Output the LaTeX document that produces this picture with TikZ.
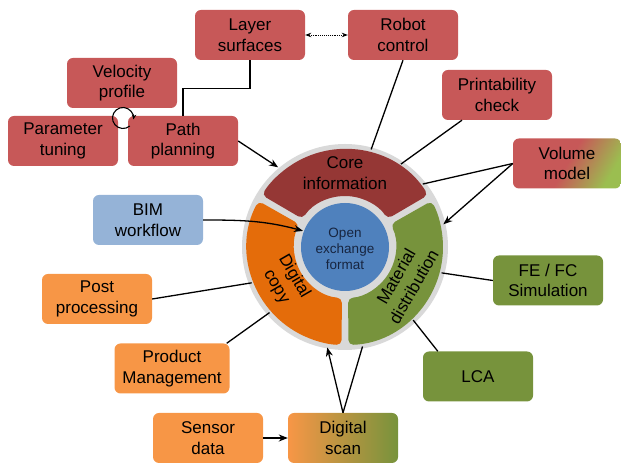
\documentclass[tikz,border=0pt]{standalone}
\usepackage{fontspec}
\setmainfont{Liberation Sans}
\usetikzlibrary{arrows.meta}

\definecolor{boxred}{RGB}{199,88,88}
\definecolor{corered}{RGB}{149,55,53}
\definecolor{copyorange}{RGB}{228,108,10}
\definecolor{matgreen}{RGB}{119,147,60}
\definecolor{boxorange}{RGB}{247,150,70}
\definecolor{boxgreen}{RGB}{119,147,60}
\definecolor{lightgreen}{RGB}{155,190,80}
\definecolor{boxblue}{RGB}{149,179,215}
\definecolor{hubblue}{RGB}{79,129,189}
\definecolor{ringgray}{RGB}{217,217,217}
\definecolor{hubtext}{RGB}{23,37,64}

\tikzset{
  info box/.style={rounded corners=6pt, minimum width=110pt, minimum height=50pt,
    align=center, inner sep=1pt, font=\fontsize{17}{20.5}\selectfont},
  red box/.style={info box, fill=boxred},
  orange box/.style={info box, fill=boxorange},
  green box/.style={info box, fill=boxgreen},
  link/.style={line width=1.3pt},
  tip/.style={link, -{Stealth[length=9pt,width=7pt]}},
}

\begin{document}
\begin{tikzpicture}[x=1pt,y=1pt]
\useasboundingbox (0,0) rectangle (621,465);

\coordinate (hub) at (345,218);

% ring with the three parts
\fill[ringgray] (hub) circle (103);
\foreach \c/\a in {corered/30,copyorange/150,matgreen/270}
  \fill[\c, rounded corners=5pt] ([shift={(\a+2:98)}]hub)
    arc[start angle=\a+2, end angle=\a+118, radius=98]
    -- ([shift={(\a+116.5:51)}]hub)
    arc[start angle=\a+116.5, end angle=\a+3.5, radius=51] -- cycle;
\fill[hubblue] (hub) circle (44);

\node[align=center, font=\fontsize{17}{20.5}\selectfont] (core) at ([shift={(0,74)}]hub) {Core\\information};
\node[align=center, font=\fontsize{17}{20.5}\selectfont, rotate=-60] (copy) at ([shift={(210:69)}]hub) {Digital\\copy};
\node[align=center, font=\fontsize{17}{20.5}\selectfont, rotate=60] (material) at ([shift={(330:69)}]hub) {Material\\distribution};
\node[align=center, text=hubtext, font=\fontsize{13.5}{16}\selectfont] (open) at ([shift={(0,-2)}]hub) {Open\\exchange\\format};

% boxes
\foreach \n/\x/\y/\t in {layer/250/430/{Layer\\surfaces}, robot/403/430/{Robot\\control},
    velocity/122/382/{Velocity\\profile}, param/63/324/{Parameter\\tuning},
    path/183/324/{Path\\planning}, print/497/370/{Printability\\check}}
  \node[red box] (\n) at (\x,\y) {\t};

\foreach \n/\x/\y/\t in {post/97/166/{Post\\processing}, sensor/208/27/{Sensor\\data}}
  \node[orange box] (\n) at (\x,\y) {\t};
\node[orange box, minimum width=115pt] (product) at (172,96.5) {Product\\Management};

\foreach \n/\x/\y/\t in {fefc/548/184.5/{FE / FC\\Simulation}, lca/478/88.5/{LCA}}
  \node[green box] (\n) at (\x,\y) {\t};

\node[info box, fill=boxblue] (bim) at (148,245) {BIM\\workflow};
\node[info box, minimum width=108pt, top color=boxred, bottom color=lightgreen,
  middle color=boxred, shading angle=60] (volume) at (567,301.5) {Volume\\model};
\node[info box, left color=boxorange, right color=boxgreen] (scan) at (343,27) {Digital\\scan};

% points on the ring
\foreach \n/\a/\r in {path/130/104, robot/75/101, print/56/100, vol1/39/100, vol2/13/101,
    bim/159/45, post/201/100, product/221/100, scan1/260/102, scan2/280/101,
    fefc/345/100, lca/313/100}
  \coordinate (ring-\n) at ([shift={(\a:\r)}]hub);

% connectors
\draw[link] (layer.south) -- ++(0,-28) -| (path.north);
\draw[{Stealth[length=6pt,width=4.5pt]}-{Stealth[length=6pt,width=4.5pt]}, densely dotted, line width=0.9pt]
  (layer.east) -- (robot.west);
\draw[line width=1.1pt, -{Stealth[length=5pt,width=4.5pt]}] ([shift={(-50:10.5)}]123,347)
  arc[start angle=-50, end angle=-368, radius=10.5];

\draw[tip] (path.east) -- (ring-path);
\draw[link] (robot.south) -- (ring-robot);
\draw[link] (print) -- (ring-print);
\draw[link] (volume.west) -- (ring-vol1);
\draw[tip] (volume.west) -- (ring-vol2);
\draw[tip] (bim.east) to[out=0, in=165] (ring-bim);
\draw[link] (post.east) -- (ring-post);
\draw[link] ([xshift=-3pt]product.north east) -- (ring-product);
\draw[tip] (scan.north) -- (ring-scan1);
\draw[link] (scan.north) -- (ring-scan2);
\draw[tip] (sensor.east) -- (scan.west);
\draw[link] (fefc.west) -- (ring-fefc);
\draw[link] ([xshift=15pt]lca.north west) -- (ring-lca);

\end{tikzpicture}
\end{document}
